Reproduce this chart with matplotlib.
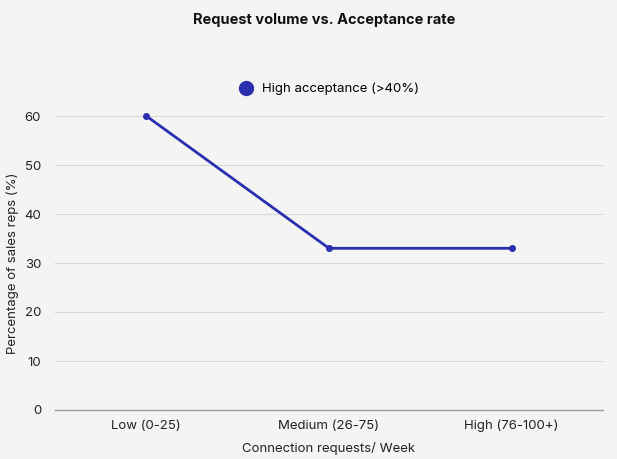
import matplotlib
matplotlib.use("Agg")
import matplotlib.pyplot as plt
from matplotlib.lines import Line2D

categories = ["Low (0-25)", "Medium (26-75)", "High (76-100+)"]
high_acceptance = [60, 33, 33]
y_ticks = [0, 10, 20, 30, 40, 50, 60]

bg = "#f4f4f2"
line_color = "#2a2fb0"

plt.rcParams["font.family"] = ["Inter", "DejaVu Sans"]

fig = plt.figure(figsize=(6.17, 4.59), dpi=100, facecolor=bg)
ax = fig.add_axes([55 / 617, 1 - 410 / 459, 548 / 617, 294 / 459])
ax.set_facecolor(bg)

x = list(range(len(categories)))
ax.plot(x, high_acceptance, color=line_color, linewidth=2, marker="o",
        markersize=4, label="High acceptance (>40%)", clip_on=False, zorder=3)

ax.set_xlim(-0.5, len(categories) - 0.5)
ax.set_ylim(0, 60)
ax.set_yticks(y_ticks)
ax.set_xticks(x)
ax.set_xticklabels(categories)
ax.tick_params(axis="both", length=0, labelsize=9.5, colors="#222222")
ax.tick_params(axis="y", pad=10)
ax.tick_params(axis="x", pad=7)

for v in y_ticks[1:]:
    ax.axhline(v, color="#d8d8d8", linewidth=0.8, zorder=0, clip_on=False)
ax.axhline(0, color="#9a9a9a", linewidth=1.0, zorder=1, clip_on=False)
for s in ax.spines.values():
    s.set_visible(False)

ax.set_xlabel("Connection requests/ Week", fontsize=9.5, color="#222222", labelpad=7)
fig.text(13 / 617, 1 - 263 / 459, "Percentage of sales reps (%)", rotation=90,
         ha="center", va="center", fontsize=9.5, color="#222222")

fig.text(324 / 617, 1 - 20 / 459, "Request volume vs. Acceptance rate", ha="center",
         va="center", fontsize=10.5, fontweight="bold", color="#111111")

handle = Line2D([], [], color=line_color, marker="o", linestyle="none", markersize=10)
fig.legend([handle], ["High acceptance (>40%)"], loc="center",
           bbox_to_anchor=(326 / 617, 1 - 89 / 459), frameon=False, fontsize=9.5,
           handletextpad=0.2)

fig.savefig("out.png", dpi=100, facecolor=bg)
